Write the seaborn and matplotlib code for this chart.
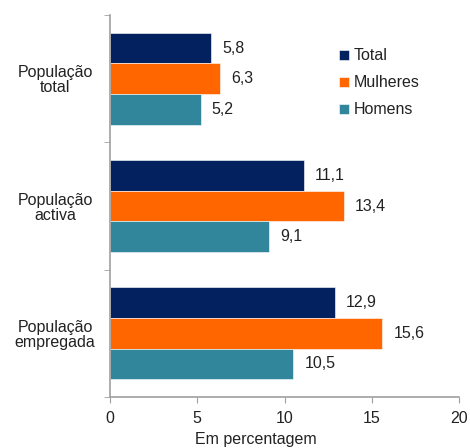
import pandas as pd
import seaborn as sns
import matplotlib.pyplot as plt

categorias = ["População\ntotal", "População\nactiva", "População\nempregada"]
series = ["Total", "Mulheres", "Homens"]
total = [5.8, 11.1, 12.9]
mulheres = [6.3, 13.4, 15.6]
homens = [5.2, 9.1, 10.5]
cores = ["#03215E", "#FF6600", "#31869B"]

df = pd.DataFrame({
    "grupo": categorias * 3,
    "serie": [s for s in series for _ in categorias],
    "valor": total + mulheres + homens,
})

sns.set_style("white")
plt.rcParams["font.family"] = ["Liberation Sans", "DejaVu Sans"]
fs = 11.5

fig = plt.figure(figsize=(4.7, 4.48), dpi=100)
ax = fig.add_axes([110 / 470, 1 - 397 / 448, 349 / 470, 382 / 448])

sns.barplot(data=df, y="grupo", x="valor", hue="serie", order=categorias,
            hue_order=series, palette=cores, orient="h", width=0.72, gap=0,
            saturation=1, ax=ax, edgecolor="white", linewidth=0.4)

for cont in ax.containers:
    labels = [f"{v:.1f}".replace(".", ",") for v in cont.datavalues]
    ax.bar_label(cont, labels=labels, padding=8, fontsize=fs, color="#222222")

ax.set_xlim(0, 20)
ax.set_ylim(2.5, -0.5)
ax.set_xticks([0, 5, 10, 15, 20])
ax.set_yticks([0, 1, 2])
ax.set_yticklabels(categorias, ha="center", fontsize=fs, color="#222222",
                   linespacing=1.0)
ax.set_yticks([-0.5, 0.5, 1.5, 2.5], minor=True)
ax.tick_params(axis="y", which="major", length=0, pad=39.5)
ax.tick_params(axis="y", which="minor", length=4, color="#A0A0A0", direction="out", left=True)
ax.tick_params(axis="x", length=4, color="#A0A0A0", direction="out", bottom=True,
               labelsize=fs, labelcolor="#222222", pad=6)

for s in ["top", "right"]:
    ax.spines[s].set_visible(False)
for s in ["left", "bottom"]:
    ax.spines[s].set_color("#A0A0A0")
    ax.spines[s].set_linewidth(1.2)

ax.set_ylabel("")
ax.set_xlabel("Em percentagem", fontsize=fs, color="#222222")
ax.xaxis.set_label_coords((256 - 110) / 349, -(432 - 397) / 382)
ax.xaxis.label.set_va("top")

leg = ax.legend(title=None, loc="upper left", bbox_to_anchor=(0.615, 0.95),
                frameon=False, fontsize=fs, handlelength=0.6, handleheight=0.6,
                handletextpad=0.3, labelspacing=0.75)
for t in leg.get_texts():
    t.set_color("#222222")

fig.savefig("out.png", dpi=100)
